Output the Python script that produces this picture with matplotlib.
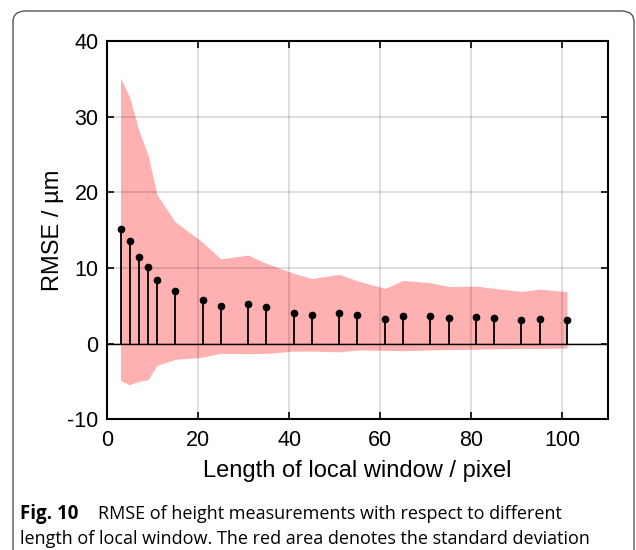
import matplotlib
matplotlib.use("Agg")
import matplotlib.pyplot as plt
from matplotlib.patches import FancyBboxPatch
import numpy as np

window = [3, 5, 7, 9, 11, 15, 21, 25, 31, 35, 41, 45, 51, 55, 61, 65, 71, 75, 81, 85, 91, 95, 101]
rmse = [15.2, 13.6, 11.5, 10.1, 8.4, 7.0, 5.8, 5.0, 5.2, 4.8, 4.1, 3.8, 4.1, 3.75, 3.25, 3.7, 3.65, 3.35, 3.45, 3.35, 3.1, 3.25, 3.1]
upper = [35.1, 32.6, 28.2, 25.0, 19.7, 16.1, 13.4, 11.2, 11.7, 10.6, 9.3, 8.6, 9.15, 8.3, 7.3, 8.35, 8.05, 7.55, 7.6, 7.3, 6.9, 7.2, 6.85]
lower = [-4.9, -5.45, -5.0, -4.8, -2.9, -2.1, -1.8, -1.3, -1.35, -1.3, -1.0, -1.0, -1.1, -0.85, -0.9, -0.95, -0.85, -0.8, -0.75, -0.7, -0.65, -0.65, -0.6]
xticks = [0, 20, 40, 60, 80, 100]
yticks = [-10, 0, 10, 20, 30, 40]

plt.rcParams['font.family'] = ['Liberation Sans', 'DejaVu Sans']
plt.rcParams['axes.unicode_minus'] = False

fig = plt.figure(figsize=(6.36, 5.5), dpi=100)
ax = fig.add_axes([0.168, 0.238, 0.788, 0.687])

ax.fill_between(window, lower, upper, color='#ffb0b0', linewidth=0, zorder=1)
ax.axhline(0, color='black', linewidth=1.0, zorder=2)
ax.vlines(window, 0, rmse, color='black', linewidth=1.3, zorder=3)
ax.plot(window, rmse, 'o', color='black', markersize=4.5, zorder=4)

ax.set_xlim(0, 110)
ax.set_ylim(-10, 40)
ax.set_xticks(xticks)
ax.set_yticks(yticks)
ax.grid(True, color='black', alpha=0.15, linewidth=1.2, zorder=5)
ax.set_axisbelow(False)
ax.tick_params(direction='in', top=True, right=True, labelsize=15.5, length=5, width=1.2)
ax.tick_params(axis='x', pad=8)
ax.tick_params(axis='y', pad=6)
for s in ax.spines.values():
    s.set_linewidth(1.5)
    s.set_zorder(6)
ax.set_xlabel('Length of local window / pixel', fontsize=17, labelpad=6)
ax.set_ylabel('RMSE / µm', fontsize=17, labelpad=2)

box = FancyBboxPatch((13 / 636, -0.1), (634 - 13) / 636, (550 - 11) / 550 + 0.1,
                     boxstyle='round,pad=0,rounding_size=0.02', transform=fig.transFigure,
                     facecolor='none', edgecolor='#555555', linewidth=1.0, zorder=-1)
fig.add_artist(box)

fig.text(20 / 636, 1 - 514 / 550, 'Fig. 10', fontsize=13.5, fontweight='bold',
         family=['Open Sans', 'DejaVu Sans'], va='center', ha='left')
fig.text(98 / 636, 1 - 514 / 550, 'RMSE of height measurements with respect to different',
         fontsize=13, family=['Open Sans', 'DejaVu Sans'], va='center', ha='left')
fig.text(20 / 636, 1 - 539 / 550, 'length of local window. The red area denotes the standard deviation',
         fontsize=13, family=['Open Sans', 'DejaVu Sans'], va='center', ha='left')

fig.savefig('out.png', dpi=100)
